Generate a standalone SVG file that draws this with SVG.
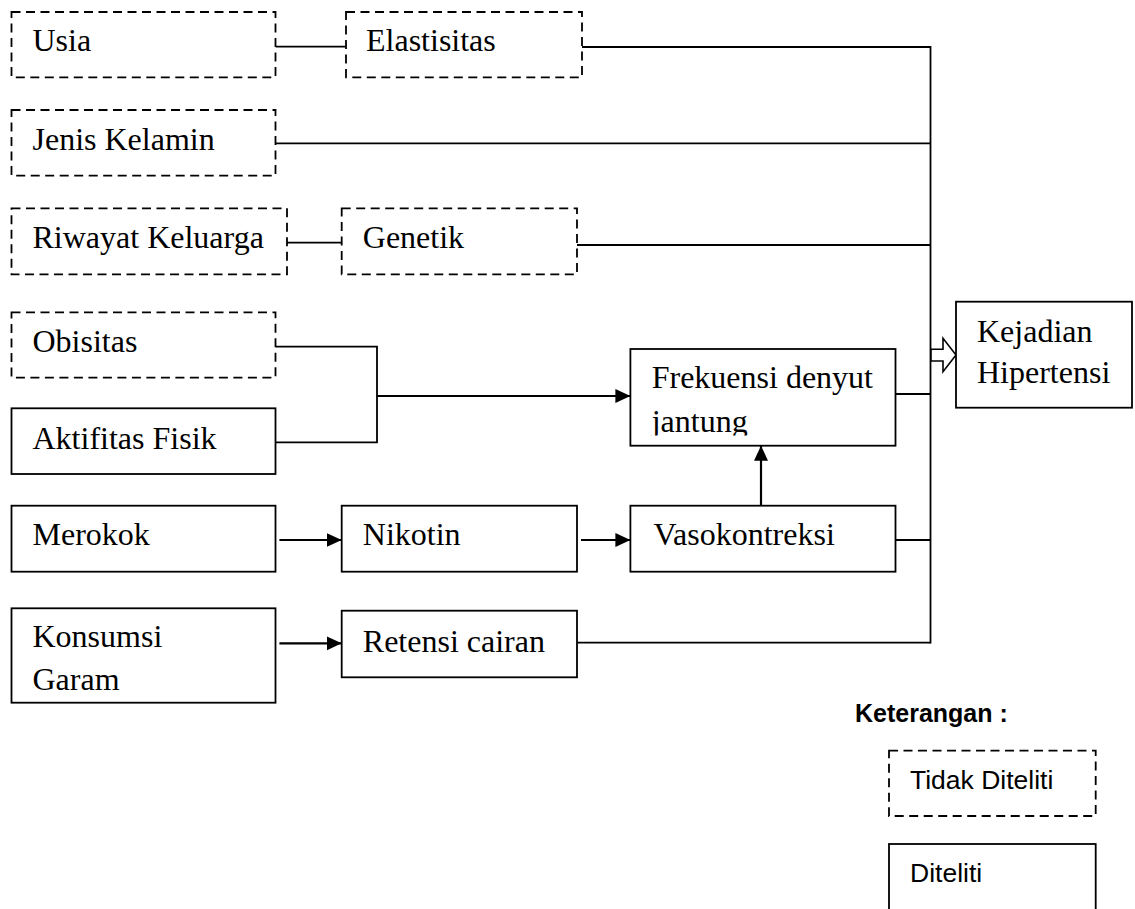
<svg xmlns="http://www.w3.org/2000/svg" width="1135" height="909" viewBox="0 0 1135 909">
<style>
.box{fill:#fff;stroke:#000;stroke-width:1.8}
.dash{fill:#fff;stroke:#000;stroke-width:1.8;stroke-dasharray:9 5.5}
.t{font-family:"Liberation Serif","Times New Roman",serif;font-size:32px;fill:#000}
.s{font-family:"Liberation Sans",Arial,sans-serif;font-size:26.5px;fill:#000}
.sb{font-family:"Liberation Sans",Arial,sans-serif;font-size:25px;font-weight:bold;fill:#000}
.ln{fill:none;stroke:#000;stroke-width:1.8}
.ar{fill:none;stroke:#000;stroke-width:2.2;marker-end:url(#ah)}
</style>
<defs>
<marker id="ah" markerUnits="userSpaceOnUse" markerWidth="16" markerHeight="15" refX="15" refY="7" orient="auto">
<path d="M0,0 L15,7 L0,14 Z" fill="#000"/>
</marker>
<clipPath id="clipJ"><rect x="600" y="300" width="300" height="135.5"/></clipPath>
</defs>
<g id="connectors">
<line class="ln" x1="275.5" y1="46.7" x2="346" y2="46.7"/>
<line class="ln" x1="582" y1="47" x2="930.5" y2="47"/>
<line class="ln" x1="275.5" y1="143.3" x2="930.5" y2="143.3"/>
<line class="ln" x1="287" y1="242.7" x2="342" y2="242.7"/>
<line class="ln" x1="577" y1="245" x2="930.5" y2="245"/>
<polyline class="ln" points="275.5,346.7 377,346.7 377,442.3 275.5,442.3"/>
<line class="ar" x1="377" y1="396" x2="630.4" y2="396"/>
<line class="ln" x1="895.5" y1="394" x2="930.5" y2="394"/>
<line class="ar" x1="761" y1="505.7" x2="761" y2="445.7"/>
<line class="ar" x1="279.4" y1="540" x2="341.7" y2="540"/>
<line class="ar" x1="581" y1="540" x2="630.4" y2="540"/>
<line class="ln" x1="895.5" y1="540" x2="930.5" y2="540"/>
<line class="ar" x1="279.4" y1="643.3" x2="341.7" y2="643.3"/>
<line class="ln" x1="577" y1="642.7" x2="930.5" y2="642.7"/>
<line class="ln" x1="930.5" y1="46.1" x2="930.5" y2="643.6"/>
<polygon points="931,349.3 943,349.3 943,338.3 956,355 943,371.7 943,361 931,361" fill="#fff" stroke="#000" stroke-width="1.6"/>
</g>
<g id="usia"><rect class="dash" x="11.5" y="12" width="264" height="65.3"/><text class="t" x="32.5" y="50.7">Usia</text></g>
<g id="elastisitas"><rect class="dash" x="346" y="12" width="236" height="65.3"/><text class="t" x="366" y="50.7">Elastisitas</text></g>
<g id="jenis-kelamin"><rect class="dash" x="11.5" y="110" width="264" height="65.7"/><text class="t" x="32.5" y="150">Jenis Kelamin</text></g>
<g id="riwayat-keluarga"><rect class="dash" x="11.5" y="208.3" width="275.5" height="66"/><text class="t" x="32.5" y="248.3">Riwayat Keluarga</text></g>
<g id="genetik"><rect class="dash" x="341.7" y="208.3" width="235.3" height="66"/><text class="t" x="362.8" y="248.3">Genetik</text></g>
<g id="obisitas"><rect class="dash" x="11.5" y="312.3" width="264" height="65.4"/><text class="t" x="32.5" y="351.7">Obisitas</text></g>
<g id="aktifitas-fisik"><rect class="box" x="11.5" y="408.3" width="264" height="65.7"/><text class="t" x="32.5" y="449">Aktifitas Fisik</text></g>
<g id="merokok"><rect class="box" x="11.5" y="505.7" width="264" height="66"/><text class="t" x="32.5" y="545">Merokok</text></g>
<g id="nikotin"><rect class="box" x="341.7" y="505.7" width="235.3" height="66"/><text class="t" x="362.8" y="545">Nikotin</text></g>
<g id="konsumsi-garam"><rect class="box" x="11.5" y="608.3" width="264" height="94.4"/><text class="t" x="32.5" y="646.7">Konsumsi</text><text class="t" x="32.5" y="690">Garam</text></g>
<g id="retensi-cairan"><rect class="box" x="341.7" y="610.7" width="235.3" height="66.6"/><text class="t" x="362.8" y="651.7">Retensi cairan</text></g>
<g id="frekuensi"><rect class="box" x="630.4" y="349" width="265.1" height="96.7"/><text class="t" x="651.7" y="388.3">Frekuensi denyut</text><text class="t" x="651.7" y="431.5" clip-path="url(#clipJ)">jantung</text></g>
<g id="vasokontreksi"><rect class="box" x="630.4" y="505.7" width="265.1" height="66"/><text class="t" x="653.5" y="545">Vasokontreksi</text></g>
<g id="kejadian-hipertensi"><rect class="box" x="956" y="301.7" width="176" height="106"/><text class="t" x="977" y="341.7">Kejadian</text><text class="t" x="977" y="383">Hipertensi</text></g>
<g id="legend">
<text class="sb" x="855" y="721.7">Keterangan :</text>
<rect class="dash" x="889" y="750.7" width="206.7" height="65.3"/>
<text class="s" x="910" y="789.3">Tidak Diteliti</text>
<rect class="box" x="889" y="844" width="206.7" height="80"/>
<text class="s" x="910" y="881.7">Diteliti</text>
</g>
</svg>
